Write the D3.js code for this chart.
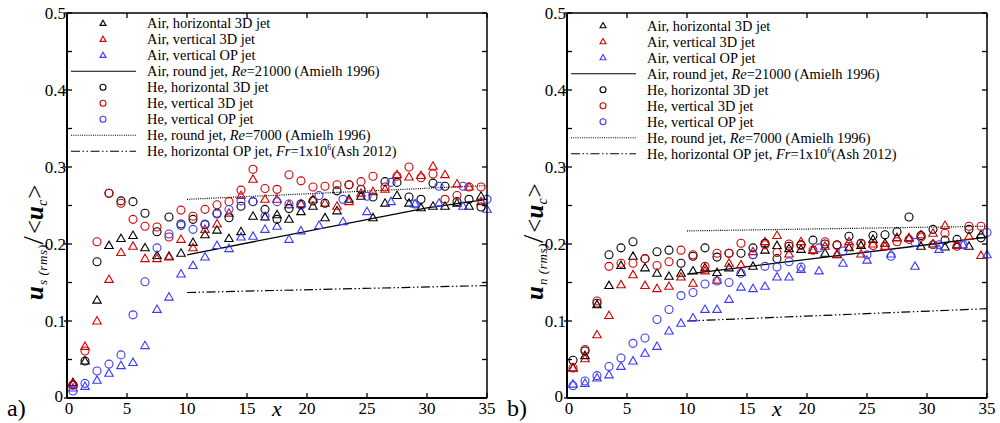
<!DOCTYPE html>
<html><head><meta charset="utf-8">
<script src="https://cdn.jsdelivr.net/npm/d3@7"></script>
<style>
body{margin:0;background:#fff;}
svg{display:block;font-family:"Liberation Serif","Times New Roman",serif;}
</style></head>
<body><svg id="chart" width="1000" height="423"></svg>
<script>
// ---- data ----
const xHalf = [0.5,1.5,2.5,3.5,4.5,5.5,6.5,7.5,8.5,9.5,10.5,11.5,12.5,13.5,14.5,15.5,16.5,17.5,18.5,19.5,20.5,21.5,22.5,23.5,24.5,25.5,26.5,27.5,28.5,29.5,30.5,31.5,32.5,33.5,34.5];
const xOP = [0.5,1.5,2.5,3.5,4.5,5.5,6.5,7.5,8.5,9.5,10.5,11.5,12.5,13.5,14.5,15.5,16.5,17.5,18.5,19.5,21,23,25,27,29,31,33,35];
const xTicks = [0,5,10,15,20,25,30,35];
const yTicks = [0,0.1,0.2,0.3,0.4,0.5];
const yTickLabels = ["0","0.1","0.2","0.3","0.4","0.5"];
const yMinorTicks = [0.05,0.15,0.25,0.35,0.45];

// panel a : u_s(rms)/<u_c>
const aAirH = [0.020,0.048,0.127,0.198,0.207,0.211,0.195,0.185,0.184,0.188,0.202,0.212,0.218,0.207,0.216,0.236,0.235,0.238,0.232,0.242,0.249,0.234,0.243,0.258,0.262,0.234,0.253,0.263,0.253,0.247,0.249,0.249,0.253,0.249,0.262];
const aAirV = [0.018,0.067,0.100,0.154,0.189,0.197,0.181,0.181,0.183,0.206,0.195,0.219,0.226,0.240,0.263,0.284,0.258,0.258,0.251,0.252,0.258,0.253,0.249,0.255,0.266,0.268,0.271,0.290,0.287,0.289,0.301,0.290,0.278,0.274,0.255];
const aAirOP = [0.013,0.015,0.023,0.032,0.042,0.046,0.068,0.115,0.131,0.161,0.172,0.183,0.198,0.194,0.209,0.210,0.219,0.223,0.206,0.217,0.224,0.229,0.242,0.255,0.252,0.253,0.249,0.245];
const aHeH = [0.017,0.048,0.177,0.266,0.256,0.255,0.240,0.216,0.235,0.226,0.232,0.225,0.240,0.234,0.249,0.255,0.245,0.232,0.246,0.252,0.256,0.253,0.269,0.277,0.271,0.261,0.281,0.280,0.261,0.258,0.279,0.275,0.255,0.258,0.248];
const aHeV = [0.017,0.061,0.203,0.266,0.253,0.232,0.223,0.222,0.209,0.244,0.236,0.245,0.251,0.255,0.270,0.297,0.272,0.271,0.290,0.282,0.274,0.275,0.277,0.277,0.281,0.288,0.274,0.288,0.300,0.286,0.291,0.258,0.263,0.274,0.274];
const aHeOP = [0.009,0.019,0.035,0.044,0.056,0.108,0.151,0.195,0.213,0.224,0.219,0.226,0.239,0.245,0.256,0.255,0.236,0.255,0.252,0.250,0.263,0.258,0.262,0.280,0.252,0.275,0.275,0.258];
const aAirRoundX = [10,30,35], aAirRoundY = [0.186,0.247,0.258];
const aHeRoundX = [10,35], aHeRoundY = [0.258,0.276];
const aAshX = [10,35], aAshY = [0.137,0.146];

// panel b : u_n(rms)/<u_c>
const bAirH = [0.039,0.055,0.121,0.146,0.172,0.184,0.169,0.162,0.158,0.162,0.165,0.169,0.163,0.169,0.163,0.171,0.192,0.198,0.194,0.193,0.192,0.188,0.186,0.195,0.198,0.206,0.201,0.208,0.208,0.197,0.200,0.196,0.199,0.197,0.212];
const bAirV = [0.039,0.051,0.082,0.107,0.147,0.160,0.146,0.142,0.145,0.157,0.149,0.165,0.153,0.175,0.173,0.190,0.203,0.211,0.187,0.203,0.192,0.197,0.187,0.203,0.187,0.200,0.197,0.208,0.207,0.212,0.214,0.224,0.198,0.210,0.185];
const bAirOP = [0.018,0.019,0.026,0.030,0.041,0.048,0.058,0.067,0.087,0.097,0.104,0.115,0.115,0.128,0.144,0.142,0.145,0.157,0.157,0.167,0.165,0.175,0.179,0.187,0.171,0.193,0.199,0.186];
const bHeH = [0.049,0.061,0.123,0.186,0.195,0.203,0.181,0.190,0.192,0.175,0.184,0.195,0.183,0.188,0.188,0.195,0.201,0.181,0.197,0.199,0.205,0.200,0.199,0.210,0.201,0.211,0.212,0.216,0.235,0.211,0.219,0.205,0.206,0.219,0.208];
const bHeV = [0.039,0.063,0.126,0.171,0.175,0.175,0.181,0.172,0.177,0.192,0.186,0.171,0.188,0.188,0.201,0.186,0.199,0.189,0.200,0.198,0.192,0.203,0.198,0.197,0.200,0.198,0.197,0.203,0.206,0.209,0.199,0.214,0.197,0.223,0.223];
const bHeOP = [0.016,0.022,0.029,0.041,0.052,0.071,0.078,0.102,0.115,0.133,0.137,0.148,0.152,0.150,0.162,0.186,0.171,0.170,0.177,0.170,0.195,0.191,0.186,0.184,0.202,0.199,0.199,0.215];
const bAirRoundX = [10,30,35], bAirRoundY = [0.161,0.199,0.209];
const bHeRoundX = [10,35], bHeRoundY = [0.217,0.223];
const bAshX = [10,35], bAshY = [0.100,0.116];

const legendLabels = [
  ["Air, horizontal 3D jet"],
  ["Air, vertical 3D jet"],
  ["Air, vertical OP jet"],
  ["Air, round jet, ", ["Re","i"], "=21000 (Amielh 1996)"],
  ["He, horizontal 3D jet"],
  ["He, vertical 3D jet"],
  ["He, vertical OP jet"],
  ["He, round jet, ", ["Re","i"], "=7000 (Amielh 1996)"],
  ["He, horizontal OP jet, ", ["Fr","i"], "=1x10", ["6","sup"], "(Ash 2012)"]
];

// ---- styles ----
const RED = "#d40000", BLUE = "#3a3aff", BLACK = "#000";
const DOT = "1,1.2", DASHDOT = "9,2.5,1.5,2.5,1.5,2.5";

const svg = d3.select("#chart");

function triPath(s){
  const h = s*0.87;
  return `M0,${-h*0.6}L${s/2},${h*0.4}L${-s/2},${h*0.4}Z`;
}

function drawPanel(p){
  const g = svg.append("g");
  const x = d3.scaleLinear().domain([0,35]).range([p.x0, p.x0+420]);
  const y = d3.scaleLinear().domain([0,0.5]).range([398, 13]);

  const pts = [
    {xs:xHalf, ys:p.airH, c:BLACK, m:"t"},
    {xs:xHalf, ys:p.airV, c:RED, m:"t"},
    {xs:xOP, ys:p.airOP, c:BLUE, m:"t"},
    {xs:xHalf, ys:p.heH, c:BLACK, m:"c"},
    {xs:xHalf, ys:p.heV, c:RED, m:"c"},
    {xs:xOP, ys:p.heOP, c:BLUE, m:"c"}
  ];
  const lines = [
    {xs:p.arX, ys:p.arY, dash:null, w:1.3},
    {xs:p.hrX, ys:p.hrY, dash:DOT, w:1.2},
    {xs:p.asX, ys:p.asY, dash:DASHDOT, w:1.2}
  ];
  const lineGen = d3.line().x(d=>x(d[0])).y(d=>y(d[1]));
  lines.forEach(l=>{
    g.append("path").attr("d", lineGen(l.xs.map((v,i)=>[v,l.ys[i]])))
      .attr("fill","none").attr("stroke","#000").attr("stroke-width",l.w)
      .attr("stroke-dasharray", l.dash);
  });
  pts.forEach(s=>{
    const sel = g.append("g").selectAll("path").data(s.xs.map((v,i)=>[v,s.ys[i]])).enter();
    if(s.m==="t"){
      sel.append("path").attr("d",triPath(8.5))
        .attr("transform",d=>`translate(${x(d[0])},${y(d[1])})`)
        .attr("fill","none").attr("stroke",s.c).attr("stroke-width",1.1);
    } else {
      sel.append("circle").attr("cx",d=>x(d[0])).attr("cy",d=>y(d[1])).attr("r",4)
        .attr("fill","none").attr("stroke",s.c).attr("stroke-width",1.1);
    }
  });

  // axes frame
  const ax = g.append("g");
  ax.append("line").attr("x1",x(0)).attr("x2",x(0)).attr("y1",y(0)).attr("y2",y(0.5)).attr("stroke","#000").attr("stroke-width",2);
  ax.append("line").attr("x1",x(0)).attr("x2",x(35)).attr("y1",y(0)).attr("y2",y(0)).attr("stroke","#000").attr("stroke-width",2);
  ax.append("line").attr("x1",x(0)).attr("x2",x(35)).attr("y1",y(0.5)).attr("y2",y(0.5)).attr("stroke","#000").attr("stroke-width",1.5);
  ax.append("line").attr("x1",x(35)).attr("x2",x(35)).attr("y1",y(0)).attr("y2",y(0.5)).attr("stroke","#000").attr("stroke-width",1.5);
  xTicks.forEach(t=>{
    ax.append("line").attr("x1",x(t)).attr("x2",x(t)).attr("y1",y(0)).attr("y2",y(0)-5).attr("stroke","#000").attr("stroke-width",1.3);
    ax.append("line").attr("x1",x(t)).attr("x2",x(t)).attr("y1",y(0.5)).attr("y2",y(0.5)+5).attr("stroke","#000").attr("stroke-width",1.3);
    ax.append("text").attr("x",x(t) + (t===0?2:0)).attr("y",414).attr("text-anchor","middle").attr("font-size",17).text(t);
  });
  yTicks.forEach((t,i)=>{
    ax.append("line").attr("x1",x(0)-3).attr("x2",x(0)+5).attr("y1",y(t)).attr("y2",y(t)).attr("stroke","#000").attr("stroke-width",1.3);
    ax.append("line").attr("x1",x(35)-5).attr("x2",x(35)).attr("y1",y(t)).attr("y2",y(t)).attr("stroke","#000").attr("stroke-width",1.3);
    ax.append("text").attr("x",x(0)-(t===0?4:1)).attr("y",y(t)+(t===0?4:6)).attr("text-anchor","end").attr("font-size",17).text(yTickLabels[i]);
  });
  yMinorTicks.forEach(t=>{
    ax.append("line").attr("x1",x(0)).attr("x2",x(0)+5).attr("y1",y(t)).attr("y2",y(t)).attr("stroke","#000").attr("stroke-width",1.3);
    ax.append("line").attr("x1",x(35)-5).attr("x2",x(35)).attr("y1",y(t)).attr("y2",y(t)).attr("stroke","#000").attr("stroke-width",1.3);
  });
  g.append("text").attr("x",x(17.5)).attr("y",416).attr("text-anchor","middle")
    .attr("font-size",22).attr("font-style","italic").text("x");
  g.append("text").attr("x",p.x0-60).attr("y",416).attr("font-size",24).text(p.letter);

  // y label
  const yl = g.append("text").attr("transform",`translate(${p.x0-24},${300}) rotate(-90)`).attr("font-size",25);
  yl.append("tspan").attr("font-weight","bold").attr("font-style","italic").text("u");
  yl.append("tspan").attr("font-style","italic").attr("font-size",13).attr("dy",4).attr("dx",1).attr("letter-spacing",0.6).text(p.sub+" (rms)");
  yl.append("tspan").attr("dy",-4).attr("dx",0).attr("font-size",30).text("/");
  yl.append("tspan").attr("dx",2).text("<");
  yl.append("tspan").attr("font-weight","bold").attr("font-style","italic").text("u");
  yl.append("tspan").attr("font-style","italic").attr("font-size",14).attr("dy",4).text("c");
  yl.append("tspan").attr("dy",-4).attr("dx",1).text(">");

  // legend
  const lg = g.append("g");
  const lx = p.x0 + 36, tx = p.x0 + 80;
  const types = [
    {m:"t",c:BLACK},{m:"t",c:RED},{m:"t",c:BLUE},{m:"l",dash:null},
    {m:"c",c:BLACK},{m:"c",c:RED},{m:"c",c:BLUE},{m:"l",dash:DOT},{m:"l",dash:DASHDOT}
  ];
  types.forEach((t,i)=>{
    const cy = p.ly0 + i*16;
    if(t.m==="t"){
      lg.append("path").attr("d",triPath(6)).attr("transform",`translate(${lx},${cy})`)
        .attr("fill","none").attr("stroke",t.c).attr("stroke-width",1.1);
    } else if(t.m==="c"){
      lg.append("circle").attr("cx",lx).attr("cy",cy).attr("r",3).attr("fill","none").attr("stroke",t.c).attr("stroke-width",1.1);
    } else {
      lg.append("line").attr("x1",p.x0+4).attr("x2",p.x0+69).attr("y1",cy).attr("y2",cy)
        .attr("stroke","#000").attr("stroke-width",1.1).attr("stroke-dasharray",t.dash);
    }
    const tt = lg.append("text").attr("x",tx).attr("y",cy+5).attr("font-size",14.4);
    let sup = false;
    legendLabels[i].forEach(part=>{
      if(typeof part === "string"){
        const ts = tt.append("tspan").text(part);
        if(sup){ ts.attr("dy",6); sup=false; }
      } else if(part[1]==="i"){
        tt.append("tspan").attr("font-style","italic").text(part[0]);
      } else {
        tt.append("tspan").attr("font-size",8).attr("dy",-6).text(part[0]);
        sup = true;
      }
    });
  });
}

drawPanel({x0:67, letter:"a)", sub:"s", ly0:23.3,
  airH:aAirH, airV:aAirV, airOP:aAirOP, heH:aHeH, heV:aHeV, heOP:aHeOP,
  arX:aAirRoundX, arY:aAirRoundY, hrX:aHeRoundX, hrY:aHeRoundY, asX:aAshX, asY:aAshY});
drawPanel({x0:567, letter:"b)", sub:"n", ly0:25.7,
  airH:bAirH, airV:bAirV, airOP:bAirOP, heH:bHeH, heV:bHeV, heOP:bHeOP,
  arX:bAirRoundX, arY:bAirRoundY, hrX:bHeRoundX, hrY:bHeRoundY, asX:bAshX, asY:bAshY});
</script></body></html>
